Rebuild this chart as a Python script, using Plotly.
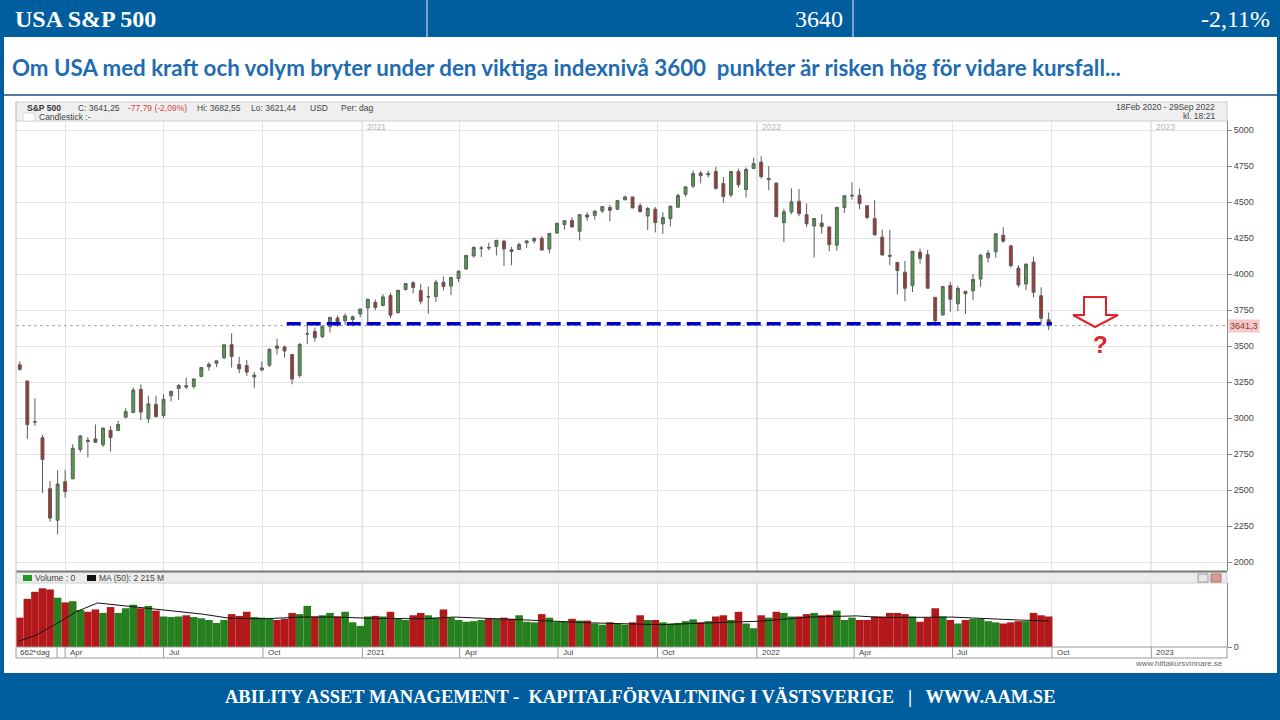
import plotly.graph_objects as go
import pandas as pd

W, H = 1280, 720
PAGE_H = 725  # the photographed page comes out ~0.7% shorter, so lay out on a slightly taller page

# weekly candles S&P 500, week of 17 Feb 2020 -> week of 26 Sep 2022
week_open = [3370, 3257, 2974, 2863, 2509, 2290, 2558, 2578, 2782, 2846, 2855, 2815, 2915, 2913, 3005,
             3038, 3199, 2994, 3094, 3018, 3155, 3205, 3224, 3219, 3289, 3356, 3380, 3418, 3509, 3371,
             3364, 3285, 3334, 3367, 3500, 3493, 3441, 3296, 3583, 3600, 3566, 3634, 3694, 3675, 3684,
             3723,
             3764, 3803, 3781, 3851, 3732, 3892, 3939, 3885, 3842, 3844, 3943, 3916, 3969, 4034, 4125,
             4179, 4185, 4192, 4228, 4169, 4170, 4216, 4229, 4248, 4173, 4284, 4344, 4372, 4297, 4410,
             4407, 4437, 4462, 4450, 4515, 4535, 4474, 4403, 4450, 4348, 4385, 4464, 4554, 4610, 4701,
             4689, 4712, 4628, 4549, 4711, 4587, 4733,
             4778, 4655, 4632, 4357, 4431, 4505, 4412, 4333, 4354, 4327, 4200, 4462, 4541, 4547, 4474,
             4385, 4256, 4130, 4081, 4013, 3920, 4151, 4134, 3838, 3715, 3920, 3793, 3880, 3883, 3965,
             4113, 4155, 4269, 4195, 4041, 3931, 4083, 3849, 3682]
week_high = [3393, 3259, 3137, 2883, 2562, 2637, 2641, 2818, 2880, 2867, 2955, 2932, 2945, 2980, 3069,
             3211, 3233, 3155, 3155, 3166, 3186, 3236, 3280, 3272, 3352, 3387, 3399, 3509, 3588, 3425,
             3402, 3320, 3393, 3485, 3550, 3502, 3441, 3521, 3646, 3628, 3645, 3701, 3712, 3727, 3711,
             3760,
             3827, 3823, 3861, 3870, 3887, 3934, 3950, 3931, 3915, 3960, 3983, 3978, 4021, 4129, 4191,
             4195, 4218, 4238, 4237, 4187, 4218, 4234, 4255, 4262, 4286, 4356, 4372, 4394, 4415, 4429,
             4440, 4468, 4480, 4513, 4545, 4535, 4492, 4466, 4465, 4429, 4475, 4559, 4608, 4718, 4715,
             4718, 4744, 4672, 4713, 4731, 4740, 4808,
             4819, 4749, 4632, 4453, 4595, 4590, 4489, 4386, 4416, 4327, 4465, 4546, 4637, 4593, 4474,
             4513, 4308, 4307, 4081, 4090, 4158, 4177, 4168, 3838, 3913, 3946, 3918, 3880, 3999, 4140,
             4167, 4280, 4325, 4203, 4062, 4077, 4120, 3907, 3733]
week_low = [3328, 2855, 2945, 2478, 2280, 2192, 2447, 2575, 2762, 2727, 2830, 2798, 2767, 2913, 3003,
            3038, 2984, 2966, 3004, 3000, 3115, 3127, 3201, 3204, 3284, 3329, 3354, 3410, 3350, 3310,
            3292, 3209, 3323, 3354, 3441, 3419, 3234, 3280, 3512, 3530, 3554, 3594, 3633, 3648, 3636,
            3699,
            3663, 3749, 3775, 3694, 3726, 3885, 3865, 3789, 3723, 3806, 3885, 3853, 3944, 4034, 4114,
            4118, 4164, 4128, 4056, 4061, 4167, 4182, 4213, 4165, 4144, 4282, 4309, 4321, 4233, 4371,
            4378, 4424, 4367, 4444, 4513, 4457, 4428, 4306, 4289, 4279, 4330, 4460, 4537, 4596, 4630,
            4672, 4585, 4495, 4532, 4600, 4531, 4733,
            4662, 4582, 4395, 4222, 4415, 4401, 4327, 4115, 4279, 4157, 4161, 4424, 4517, 4450, 4381,
            4267, 4128, 4063, 3859, 3811, 3875, 4073, 3900, 3637, 3715, 3738, 3742, 3722, 3818, 3911,
            4080, 4112, 4218, 4045, 3907, 3887, 3838, 3647, 3611]
week_close = [3338, 2954, 2972, 2711, 2305, 2541, 2489, 2790, 2875, 2837, 2831, 2930, 2864, 2955, 3044,
              3194, 3041, 3098, 3009, 3130, 3185, 3225, 3216, 3271, 3351, 3373, 3397, 3508, 3427, 3341,
              3319, 3298, 3348, 3477, 3484, 3465, 3270, 3510, 3585, 3558, 3638, 3699, 3663, 3709, 3703,
              3756,
              3825, 3768, 3841, 3714, 3887, 3934, 3907, 3811, 3842, 3943, 3913, 3975, 4020, 4129, 4185,
              4180, 4181, 4233, 4174, 4156, 4204, 4230, 4247, 4166, 4281, 4352, 4370, 4327, 4412, 4395,
              4437, 4468, 4442, 4509, 4535, 4459, 4433, 4455, 4357, 4391, 4471, 4545, 4605, 4697, 4683,
              4698, 4595, 4538, 4712, 4620, 4726, 4766,
              4677, 4663, 4398, 4432, 4501, 4419, 4349, 4385, 4329, 4204, 4463, 4543, 4546, 4488, 4393,
              4272, 4132, 4123, 4024, 3901, 4158, 4109, 3901, 3675, 3912, 3825, 3899, 3863, 3962, 4130,
              4145, 4280, 4228, 4058, 3924, 4067, 3873, 3693, 3641]
# average daily volume per week, millions
week_volume = [2500, 4100, 4700, 5000, 4900, 4200, 3800, 3900, 3150, 3000, 3200, 2900, 3400, 2900, 3300,
               3600, 3300, 3500, 3100, 2600, 2550, 2600, 2700, 2550, 2450, 2300, 2050, 2300, 2800, 2650,
               3000, 2550, 2500, 2400, 2300, 2400, 2900, 2800, 3500, 2600, 2700, 2900, 2600, 3000, 2100,
               1800,
               2600, 2650, 2600, 3000, 2400, 2300, 2700, 2900, 2700, 2500, 3200, 2500, 2300, 2150, 2200,
               2300, 2400, 2400, 2500, 2400, 2700, 2150, 2100, 2800, 2500, 2150, 2150, 2400, 2250, 2250,
               2000, 1900, 2100, 2000, 1900, 2100, 2700, 2300, 2300, 2100, 2000, 2050, 2200, 2350, 2100,
               2200, 2600, 2700, 2300, 3000, 2000, 1600,
               2700, 2500, 3000, 2900, 2600, 2600, 2800, 2900, 2700, 2750, 3100, 2300, 2500, 2300, 2300,
               2600, 2600, 2900, 2900, 2800, 2600, 2150, 2500, 3300, 2600, 2300, 2000, 2300, 2400, 2400,
               2200, 2100, 2000, 2100, 2200, 2200, 2900, 2700, 2600]

ma_dates = ["2020-02-18", "2020-03-05", "2020-03-30", "2020-04-11", "2020-05-01", "2020-05-18",
            "2020-06-21", "2020-08-06", "2020-08-31", "2020-10-01", "2020-11-07", "2020-12-07",
            "2021-01-07", "2021-02-28", "2021-03-27", "2021-06-02", "2021-08-03", "2021-10-03",
            "2021-12-04", "2022-01-04", "2022-02-19", "2022-04-03", "2022-04-29", "2022-06-30",
            "2022-08-31", "2022-09-28"]
ma_values = [500, 1000, 2300, 3000, 3750, 3600, 3250, 2800, 2450, 2400, 2550, 2550,
             2450, 2400, 2550, 2300, 2050, 1900, 2100, 2200, 2550, 2650, 2500, 2550, 2300, 2215]

quarter_ticks = ["2020-04-01", "2020-07-01", "2020-10-01", "2021-01-01", "2021-04-01", "2021-07-01",
                 "2021-10-01", "2022-01-01", "2022-04-01", "2022-07-01", "2022-10-01", "2023-01-01"]
quarter_labels = ["Apr", "Jul", "Oct", "2021", "Apr", "Jul", "Oct", "2022", "Apr", "Jul", "Oct", "2023"]
year_ticks = ["2021-01-01", "2022-01-01", "2023-01-01"]
year_labels = ["2021", "2022", "2023"]
price_ticks = [2000, 2250, 2500, 2750, 3000, 3250, 3500, 3750, 4000, 4250, 4500, 4750, 5000]

support_level = 3655
support_start, support_end = "2020-10-23", "2022-10-01"
last_price = 3641.3

week_dates = pd.date_range("2020-02-19", periods=len(week_close), freq="7D")

BLUE = "#005e9e"
GRID = "#e4e4e4"


def px(x):
    return x / W


def py(y):
    return 1 - y / H


fig = go.Figure()

fig.add_trace(go.Candlestick(
    x=week_dates, open=week_open, high=week_high, low=week_low, close=week_close,
    increasing=dict(fillcolor="#4f9e4c", line=dict(color="#5c5c5c", width=1)),
    decreasing=dict(fillcolor="#a3362f", line=dict(color="#5c5c5c", width=1)),
    whiskerwidth=0, xaxis="x", yaxis="y", hoverinfo="skip"))

vol_colors = ["#26801f" if c >= o else "#b3191a" for o, c in zip(week_open, week_close)]
fig.add_trace(go.Bar(x=week_dates, y=week_volume, marker_color=vol_colors, marker_line_width=0,
                     width=7 * 86400000, xaxis="x2", yaxis="y2", hoverinfo="skip"))
fig.add_trace(go.Scatter(x=ma_dates, y=ma_values, mode="lines", line=dict(color="#111111", width=1),
                         xaxis="x2", yaxis="y2", hoverinfo="skip"))

shapes = []


def rect(x0, y0, x1, y1, fill, line=None, lw=0, layer="above"):
    shapes.append(dict(type="rect", xref="paper", yref="paper", x0=px(x0), x1=px(x1),
                       y0=py(y1), y1=py(y0), fillcolor=fill, layer=layer,
                       line=dict(color=line or fill, width=lw)))


def hline(x0, x1, y, color, width):
    shapes.append(dict(type="line", xref="paper", yref="paper", x0=px(x0), x1=px(x1),
                       y0=py(y), y1=py(y), line=dict(color=color, width=width)))


# slide frame
rect(0, 0, 1280, 37, BLUE)
rect(0, 673, 1280, 720, BLUE)
rect(0, 37, 4, 673, BLUE)
rect(1277, 37, 1280, 673, BLUE)
for sx in (427, 853):
    shapes.append(dict(type="line", xref="paper", yref="paper", x0=px(sx), x1=px(sx), y0=py(0), y1=py(37),
                       line=dict(color="#e8eef5", width=1)))
hline(4, 1277, 95, "#1d4f86", 1.5)

# chart image boxes
rect(16, 102, 1227, 121, "#efefef", "#cfcfcf", 1)
rect(23, 113, 35, 121, "#ffffff", "#d8d8d8", 1)
rect(16, 572, 1227, 583, "#ececec", "#d0d0d0", 1)
hline(16, 1227, 571.5, "#7a7a7a", 2)
rect(16, 647, 1227, 658, "rgba(0,0,0,0)", "#9a9a9a", 1)
shapes.append(dict(type="line", xref="paper", yref="paper", x0=px(16), x1=px(16), y0=py(658), y1=py(102),
                   line=dict(color="#c8c8c8", width=1)))
shapes.append(dict(type="line", xref="paper", yref="paper", x0=px(57), x1=px(57), y0=py(658), y1=py(647),
                   line=dict(color="#9a9a9a", width=1)))
rect(23, 575, 32, 581, "#1f9a1f")
rect(87, 575, 96, 581, "#111111")
rect(1198, 574, 1208, 582, "#e6e6e6", "#9a9a9a", 1)
rect(1211, 574, 1221, 582, "#d99a9a", "#b07070", 1)

for q in quarter_ticks:
    shapes.append(dict(type="line", xref="x", yref="paper", x0=q, x1=q, y0=py(658), y1=py(647),
                       line=dict(color="#9a9a9a", width=1)))
for yv in year_ticks:
    for y0, y1 in ((121, 571), (583, 647)):
        shapes.append(dict(type="line", xref="x", yref="paper", x0=yv, x1=yv, y0=py(y1), y1=py(y0),
                           layer="below", line=dict(color="#cfcfcf", width=1.5)))

# last price and support level
shapes.append(dict(type="line", xref="paper", yref="y", x0=px(16), x1=px(1227), y0=last_price, y1=last_price,
                   line=dict(color="#a8a8a8", width=1, dash="dot")))
shapes.append(dict(type="line", xref="x", yref="y", x0=support_start, x1=support_end,
                   y0=support_level, y1=support_level,
                   line=dict(color="#0000c8", width=3.5, dash="14px,6px")))

# down arrow
arrow_pts = [(1084, 297), (1106, 297), (1106, 315), (1118, 315), (1095, 327), (1073, 315), (1084, 315)]
path = "M " + " L ".join(f"{px(a):.5f},{py(b):.5f}" for a, b in arrow_pts) + " Z"
shapes.append(dict(type="path", xref="paper", yref="paper", path=path, fillcolor="white",
                   line=dict(color="#e3232a", width=2)))

ann = []


def text(x, y, s, size, color, family="Liberation Sans", anchor="left", **kw):
    ann.append(dict(x=px(x), y=py(y), xref="paper", yref="paper", text=s, showarrow=False,
                    xanchor=anchor, yanchor="middle", font=dict(family=family, size=size, color=color), **kw))


text(13, 19, "<b>USA S&P 500</b>", 24, "white", "Liberation Serif")
text(845, 19, "3640", 24, "white", "Liberation Serif", "right")
text(1272, 19, "-2,11%", 24, "white", "Liberation Serif", "right")
text(10, 67, "<b>Om USA med kraft och volym bryter under den viktiga indexnivå 3600  punkter är risken hög "
             "för vidare kursfall...</b>", 22.3, "#1f6cb0", "Lato")
text(640, 697, "<b>ABILITY ASSET MANAGEMENT -  KAPITALFÖRVALTNING I VÄSTSVERIGE   |   WWW.AAM.SE</b>",
     18.5, "white", "Liberation Serif", "center")

info = [(25, "<b>S&P 500</b>", "#333333"), (76, "C: 3641,25", "#444444"), (126, "-77,79 (-2,09%)", "#d04545"),
        (195, "Hi: 3682,55", "#444444"), (249, "Lo: 3621,44", "#444444"), (308, "USD", "#444444"),
        (339, "Per: dag", "#444444")]
for x, s, c in info:
    text(x, 108, s, 8.5, c)
text(37, 117, "Candlestick :-", 8.5, "#444444")
text(1217, 107, "18Feb 2020 - 29Sep 2022", 8.5, "#444444", anchor="right")
text(1217, 116, "kl. 18:21", 8.5, "#444444", anchor="right")
text(33, 578, "Volume : 0", 8.5, "#444444")
text(97, 578, "MA (50): 2 215 M", 8.5, "#444444")
text(18, 652.5, "662*dag", 8, "#444444")
text(1225, 663, "www.hittakursvinnare.se", 8, "#666666", anchor="right")
text(1100, 344, "<b>?</b>", 24, "#e3232a", "Liberation Sans", "center")

for q, lab in zip(quarter_ticks, quarter_labels):
    ann.append(dict(x=q, y=py(652.5), xref="x", yref="paper", text=lab, showarrow=False, xanchor="left",
                    xshift=3, yanchor="middle", font=dict(family="Liberation Sans", size=8, color="#444444")))
for yv, lab in zip(year_ticks, year_labels):
    ann.append(dict(x=yv, y=py(127), xref="x", yref="paper", text=lab, showarrow=False, xanchor="left",
                    xshift=3, yanchor="middle", font=dict(family="Liberation Sans", size=8.5, color="#b5b5b5")))

ann.append(dict(x=px(1228), y=last_price, xref="paper", yref="y", text="3641,3", showarrow=False,
                xanchor="left", yanchor="middle", bgcolor="#f6c8c8", borderpad=1,
                font=dict(family="Liberation Sans", size=9, color="#8a3a3a")))

axis_font = dict(family="Liberation Sans", size=9, color="#444444")
xrange = ["2020-02-15 12:00", "2023-03-12"]

fig.update_layout(
    width=W, height=PAGE_H, margin=dict(l=0, r=0, t=0, b=0),
    paper_bgcolor="white", plot_bgcolor="white", showlegend=False, boxgap=0.45,
    shapes=shapes, annotations=ann,
    xaxis=dict(domain=[px(16), px(1227)], range=xrange, type="date", anchor="y",
               tickvals=quarter_ticks, showticklabels=False, showgrid=True, gridcolor=GRID,
               zeroline=False, showline=False, rangeslider=dict(visible=False)),
    yaxis=dict(domain=[py(571), py(121)], range=[1937.5, 5062.5], side="right", anchor="x",
               tickvals=price_ticks, ticks="outside", ticklen=4, tickcolor="#888888",
               showline=True, linecolor="#888888", gridcolor=GRID, zeroline=False, tickfont=axis_font),
    xaxis2=dict(domain=[px(16), px(1227)], matches="x", type="date", anchor="y2",
                tickvals=quarter_ticks, showticklabels=False, showgrid=True, gridcolor=GRID,
                zeroline=False, showline=False),
    yaxis2=dict(domain=[py(647), py(583)], range=[0, 5450], side="right", anchor="x2",
                tickvals=[0], ticks="outside", ticklen=4, tickcolor="#888888", showgrid=False,
                showline=True, linecolor="#888888", zeroline=False, tickfont=axis_font),
)

# page body margin would shift the figure by 8px
fig.write_html("out.html", config={"displayModeBar": False},
               post_script="document.body.style.margin='0';document.body.style.overflow='hidden';")
